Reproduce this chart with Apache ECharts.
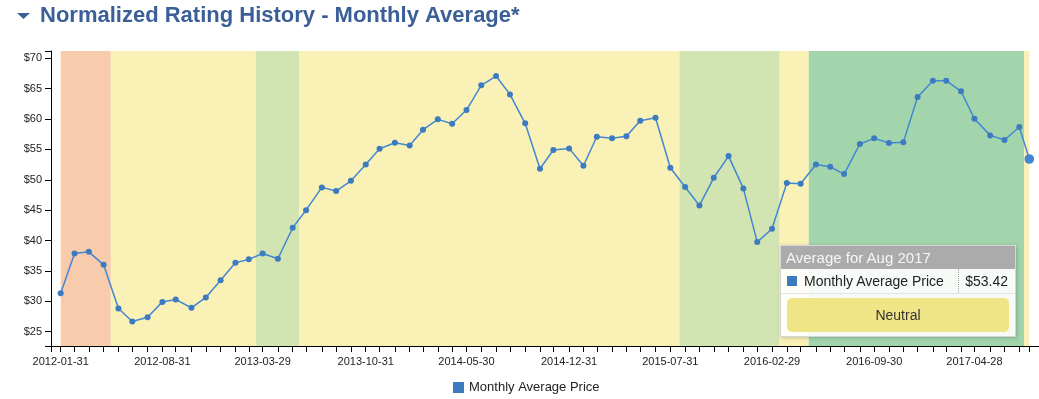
<!DOCTYPE html>
<html>
<head>
    <meta charset="utf-8">
    <title>Normalized Rating History</title>
    <script src="https://cdn.jsdelivr.net/npm/echarts@6/dist/echarts.min.js"></script>
    <style>
        html, body { margin: 0; padding: 0; background: #fff; }
    </style>
</head>
<body>
    <div id="main" style="width: 1039px;height:399px;"></div>
    <script type="text/javascript">
        // month-end (last business day) dates, last one is the partial current month
        var dates = [
            '2012-01-31', '2012-02-29', '2012-03-30', '2012-04-30', '2012-05-31', '2012-06-29',
            '2012-07-31', '2012-08-31', '2012-09-28', '2012-10-31', '2012-11-30', '2012-12-31',
            '2013-01-31', '2013-02-28', '2013-03-29', '2013-04-30', '2013-05-31', '2013-06-28',
            '2013-07-31', '2013-08-30', '2013-09-30', '2013-10-31', '2013-11-29', '2013-12-31',
            '2014-01-31', '2014-02-28', '2014-03-31', '2014-04-30', '2014-05-30', '2014-06-30',
            '2014-07-31', '2014-08-29', '2014-09-30', '2014-10-31', '2014-11-28', '2014-12-31',
            '2015-01-30', '2015-02-27', '2015-03-31', '2015-04-30', '2015-05-29', '2015-06-30',
            '2015-07-31', '2015-08-31', '2015-09-30', '2015-10-30', '2015-11-30', '2015-12-31',
            '2016-01-29', '2016-02-29', '2016-03-31', '2016-04-29', '2016-05-31', '2016-06-30',
            '2016-07-29', '2016-08-31', '2016-09-30', '2016-10-31', '2016-11-30', '2016-12-30',
            '2017-01-31', '2017-02-28', '2017-03-31', '2017-04-28', '2017-05-31', '2017-06-30',
            '2017-07-31', '2017-08-21'
        ];

        var prices = [
            31.33, 37.87, 38.14, 36.00, 28.81, 26.67, 27.38, 29.90, 30.30, 28.92,
            30.63, 33.48, 36.33, 36.90, 37.87, 37.00, 42.10, 45.00, 48.75, 48.14,
            49.84, 52.53, 55.11, 56.10, 55.66, 58.24, 59.95, 59.23, 61.48, 65.55,
            67.08, 64.06, 59.29, 51.81, 54.90, 55.17, 52.31, 57.08, 56.82, 57.15,
            59.72, 60.21, 51.98, 48.80, 45.78, 50.33, 53.90, 48.58, 39.74, 41.93,
            49.46, 49.35, 52.53, 52.14, 50.94, 55.88, 56.82, 56.05, 56.16, 63.62,
            66.31, 66.31, 64.56, 60.05, 57.31, 56.54, 58.68, 53.42
        ];

        // labelled ticks on the x axis
        var xLabelDates = [
            '2012-01-31', '2012-08-31', '2013-03-29', '2013-10-31', '2014-05-30',
            '2014-12-31', '2015-07-31', '2016-02-29', '2016-09-30', '2017-04-28'
        ];

        var yTicks = [25, 30, 35, 40, 45, 50, 55, 60, 65, 70];

        // rating bands: edges[i] -> edges[i+1] has rating bandRatings[i]
        var bandEdges = [
            '2012-01-31', '2012-05-15', '2013-03-15', '2013-06-14', '2015-08-19',
            '2016-03-16', '2016-05-16', '2017-08-10', '2017-08-21'
        ];
        var bandRatings = [
            'Underperform', 'Neutral', 'Outperform', 'Neutral', 'Outperform',
            'Neutral', 'Buy', 'Neutral'
        ];
        var ratingColors = {
            'Underperform': '#f7cbab',
            'Neutral': '#f9f1b6',
            'Outperform': '#d2e4b2',
            'Buy': '#a3d5ad'
        };

        var monthNames = ['Jan', 'Feb', 'Mar', 'Apr', 'May', 'Jun', 'Jul', 'Aug', 'Sep', 'Oct', 'Nov', 'Dec'];
        var lineColor = '#3c7bc0';
        var font = "'Liberation Sans', Arial, sans-serif";

        function ts(d) {
            return echarts.time.parse(d).getTime();
        }

        var times = dates.map(ts);
        var seriesData = times.map(function (t, i) { return [t, prices[i]]; });
        var labelByTime = {};
        dates.forEach(function (d, i) { labelByTime[times[i]] = d; });

        // 1% padding each side like the original time scale
        var span = times[times.length - 1] - times[0];
        var xMin = times[0] - span * 0.01;
        var xMax = times[times.length - 1] + span * 0.01;
        var yMin = 22.64, yMax = 71.2;

        var bands = [];
        for (var i = 0; i < bandRatings.length; i++) {
            bands.push([
                { xAxis: ts(bandEdges[i]), itemStyle: { color: ratingColors[bandRatings[i]] } },
                { xAxis: ts(bandEdges[i + 1]) }
            ]);
        }

        var lastIdx = prices.length - 1;
        var lastRating = bandRatings[bandRatings.length - 1];

        var myChart = echarts.init(document.getElementById('main'));
        var option = {
            animation: false,
            title: {
                text: 'Normalized Rating History - Monthly Average*',
                left: 40,
                top: 5,
                padding: 0,
                textStyle: { fontFamily: font, fontSize: 22, fontWeight: 'bold', color: '#3a5f96' }
            },
            graphic: [{
                type: 'polygon',
                shape: { points: [[17, 13], [30, 13], [23.5, 19]] },
                style: { fill: '#3a5f96' }
            }],
            grid: { left: 51, right: 0, top: 51, bottom: 53 },
            legend: {
                left: 448,
                top: 376,
                itemWidth: 11,
                itemHeight: 11,
                icon: 'rect',
                textStyle: { fontFamily: font, fontSize: 13, color: '#222' },
                data: ['Monthly Average Price']
            },
            tooltip: {
                trigger: 'item',
                triggerOn: 'none',
                alwaysShowContent: true,
                transitionDuration: 0,
                position: [780, 245],
                padding: 0,
                borderWidth: 1,
                borderColor: '#d6d6d6',
                borderRadius: 0,
                backgroundColor: 'rgba(255,255,255,0.9)',
                shadowBlur: 4,
                shadowOffsetX: 1,
                shadowOffsetY: 1,
                shadowColor: 'rgba(0,0,0,0.2)',
                extraCssText: 'width:236px;box-sizing:border-box;',
                formatter: function (p) {
                    var d = echarts.time.parse(dates[p.dataIndex]);
                    var title = 'Average for ' + monthNames[d.getMonth()] + ' ' + d.getFullYear();
                    return '<div style="font-family:' + font.replace(/'/g, '') + ';">' +
                        '<div style="background:#aaabaa;color:#f6f6f6;font-size:15px;height:23px;line-height:23px;padding:0 5px;">' + title + '</div>' +
                        '<div style="display:flex;align-items:center;height:24px;font-size:14px;color:#222;border-bottom:1px solid #e4e4e4;">' +
                        '<span style="display:inline-block;width:10px;height:10px;background:' + lineColor + ';margin:0 7px 0 6px;"></span>' +
                        '<span style="flex:1;">Monthly Average Price</span>' +
                        '<span style="border-left:1px dotted #aaa;padding:0 7px 0 6px;line-height:24px;">$' + prices[p.dataIndex].toFixed(2) + '</span>' +
                        '</div>' +
                        '<div style="margin:4px 6px 4px 6px;background:#f0e586;border-radius:5px;height:34px;line-height:34px;text-align:center;font-size:14px;color:#333;">' + lastRating + '</div>' +
                        '</div>';
                }
            },
            xAxis: {
                type: 'value',
                min: xMin,
                max: xMax,
                z: 5,
                splitLine: { show: false },
                axisLine: { lineStyle: { color: '#000', width: 1 } },
                axisTick: {
                    length: 6,
                    lineStyle: { color: '#000' },
                    customValues: [xMin].concat(times, [xMax])
                },
                axisLabel: {
                    customValues: xLabelDates.map(ts),
                    margin: 10,
                    fontFamily: font,
                    fontSize: 11,
                    color: '#222',
                    formatter: function (v) { return labelByTime[v] || ''; }
                }
            },
            yAxis: {
                type: 'value',
                min: yMin,
                max: yMax,
                z: 5,
                splitLine: { show: false },
                axisLine: { show: true, lineStyle: { color: '#000', width: 1 } },
                axisTick: {
                    show: true,
                    length: 6,
                    lineStyle: { color: '#000' },
                    customValues: [yMin].concat(yTicks, [yMax])
                },
                axisLabel: {
                    customValues: yTicks,
                    margin: 9,
                    fontFamily: font,
                    fontSize: 11,
                    color: '#222',
                    formatter: function (v) { return '$' + v; }
                }
            },
            series: [{
                name: 'Monthly Average Price',
                type: 'line',
                data: seriesData,
                color: lineColor,
                symbol: 'circle',
                symbolSize: 6,
                showAllSymbol: true,
                lineStyle: { width: 1.5, color: lineColor },
                itemStyle: { color: lineColor },
                emphasis: { scale: 1.6 },
                markArea: {
                    silent: true,
                    data: bands
                }
            }]
        };

        myChart.setOption(option);
        myChart.dispatchAction({ type: 'highlight', seriesIndex: 0, dataIndex: lastIdx });
        myChart.dispatchAction({ type: 'showTip', seriesIndex: 0, dataIndex: lastIdx });
    </script>
</body>
</html>
